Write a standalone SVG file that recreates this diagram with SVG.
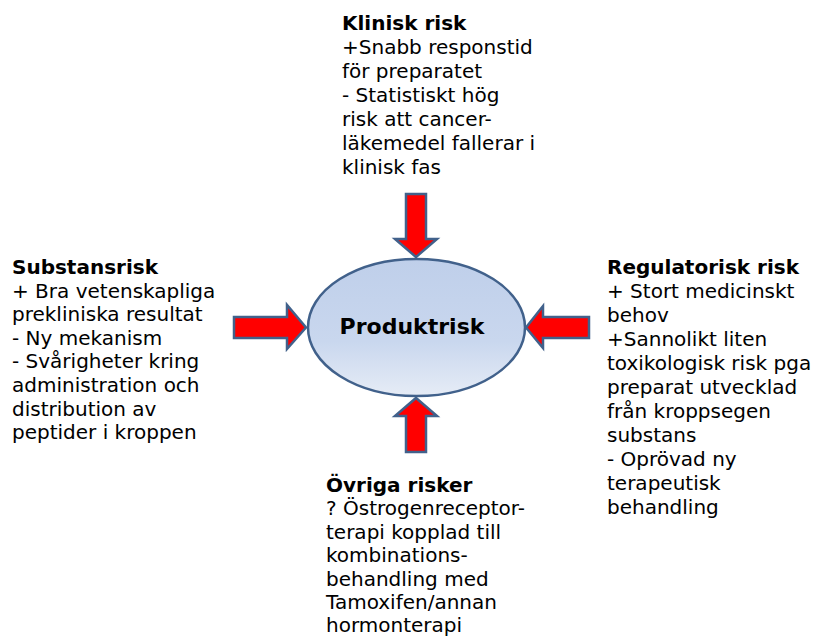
<svg xmlns="http://www.w3.org/2000/svg" width="814" height="637" viewBox="0 0 814 637">
  <defs>
    <linearGradient id="ovalFill" x1="0" y1="0" x2="0" y2="1">
      <stop offset="0" stop-color="#bfcfea"/>
      <stop offset="0.6" stop-color="#c9d7ee"/>
      <stop offset="1" stop-color="#e6ecf6"/>
    </linearGradient>
    <style>
      .txt { font-family: "DejaVu Sans", Verdana, sans-serif; font-size: 20px; fill: #000; }
      .ttl { font-weight: bold; }
      .arrow { fill: #ff0000; stroke: #41618b; stroke-width: 2.5; stroke-linejoin: miter; }
      .oval { fill: url(#ovalFill); stroke: #41618b; stroke-width: 2.5; }
      .center { font-family: "DejaVu Sans", Verdana, sans-serif; font-size: 22px; font-weight: bold; fill: #000; }
    </style>
  </defs>

  <rect width="814" height="637" fill="#ffffff"/>

  <!-- central node -->
  <g id="produktrisk">
    <ellipse class="oval" cx="416.5" cy="327.5" rx="108.5" ry="68.5"/>
    <text class="center" x="412" y="334" text-anchor="middle">Produktrisk</text>
  </g>

  <!-- inward arrows -->
  <g id="connectors">
    <polygon class="arrow" points="406,194 426,194 426,239 437,239 416,257 395,239 406,239"/>
    <polygon class="arrow" points="406,452 426,452 426,416 437,416 416,398 395,416 406,416"/>
    <polygon class="arrow" points="234,317 287,317 287,305 306,327.5 287,349 287,338 234,338"/>
    <polygon class="arrow" points="589,317 543,317 543,306 526,327.5 543,348 543,338 589,338"/>
  </g>

  <g id="klinisk-risk">
    <text class="txt" x="342" y="30">
      <tspan class="ttl" x="342" dy="0">Klinisk risk</tspan>
      <tspan x="342" dy="24">+Snabb responstid</tspan>
      <tspan x="342" dy="24">för preparatet</tspan>
      <tspan x="342" dy="24">- Statistiskt hög</tspan>
      <tspan x="342" dy="24">risk att cancer-</tspan>
      <tspan x="342" dy="24">läkemedel fallerar i</tspan>
      <tspan x="342" dy="24">klinisk fas</tspan>
    </text>
  </g>

  <g id="substansrisk">
    <text class="txt" x="12" y="274">
      <tspan class="ttl" x="12" dy="0">Substansrisk</tspan>
      <tspan x="12" dy="23.6">+ Bra vetenskapliga</tspan>
      <tspan x="12" dy="23.6">prekliniska resultat</tspan>
      <tspan x="12" dy="23.6">- Ny mekanism</tspan>
      <tspan x="12" dy="23.6">- Svårigheter kring</tspan>
      <tspan x="12" dy="23.6">administration och</tspan>
      <tspan x="12" dy="23.6">distribution av</tspan>
      <tspan x="12" dy="23.6">peptider i kroppen</tspan>
    </text>
  </g>

  <g id="regulatorisk-risk">
    <text class="txt" x="607" y="273.5">
      <tspan class="ttl" x="607" dy="0">Regulatorisk risk</tspan>
      <tspan x="607" dy="24">+ Stort medicinskt</tspan>
      <tspan x="607" dy="24">behov</tspan>
      <tspan x="607" dy="24">+Sannolikt liten</tspan>
      <tspan x="607" dy="24">toxikologisk risk pga</tspan>
      <tspan x="607" dy="24">preparat utvecklad</tspan>
      <tspan x="607" dy="24">från kroppsegen</tspan>
      <tspan x="607" dy="24">substans</tspan>
      <tspan x="607" dy="24">- Oprövad ny</tspan>
      <tspan x="607" dy="24">terapeutisk</tspan>
      <tspan x="607" dy="24">behandling</tspan>
    </text>
  </g>

  <g id="ovriga-risker">
    <text class="txt" x="326" y="492">
      <tspan class="ttl" x="326" dy="0">Övriga risker</tspan>
      <tspan x="326" dy="23.4">? Östrogenreceptor-</tspan>
      <tspan x="326" dy="23.4">terapi kopplad till</tspan>
      <tspan x="326" dy="23.4">kombinations-</tspan>
      <tspan x="326" dy="23.4">behandling med</tspan>
      <tspan x="326" dy="23.4">Tamoxifen/annan</tspan>
      <tspan x="326" dy="23.4">hormonterapi</tspan>
    </text>
  </g>
</svg>
